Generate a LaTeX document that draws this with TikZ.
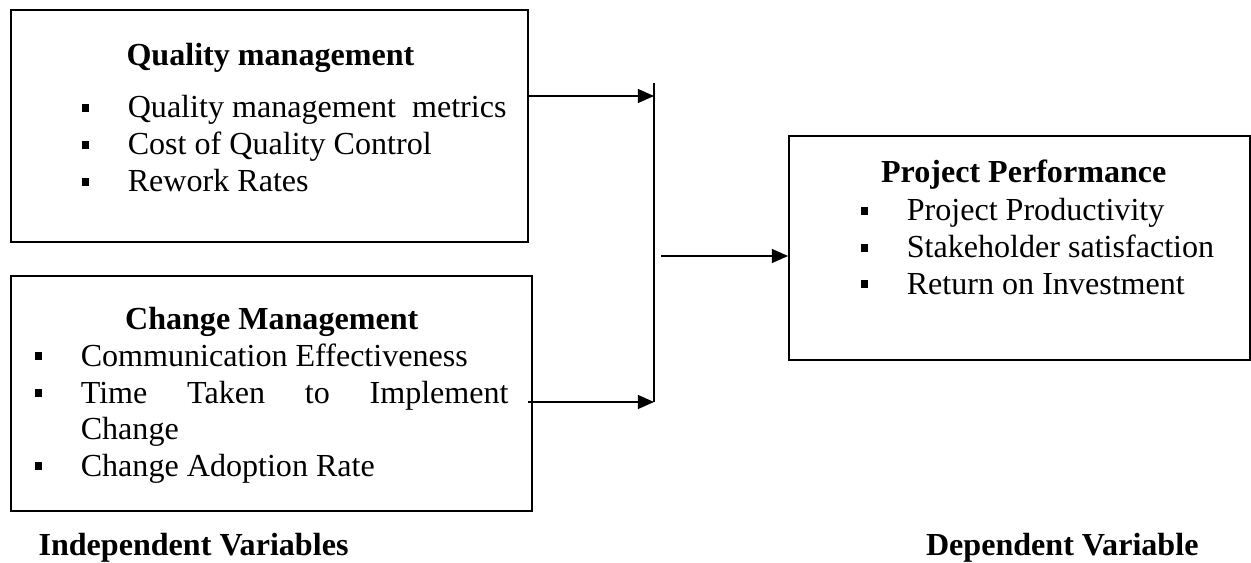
\documentclass[tikz,border=0pt]{standalone}
\usepackage{fontspec}
\setmainfont{Liberation Serif}
\usetikzlibrary{positioning, calc, arrows.meta}

\newcommand{\bul}{\makebox[17.3pt][l]{\rule[2.4pt]{2.8pt}{2.8pt}}}

\begin{document}
\begin{tikzpicture}[x=0.374pt, y=-0.374pt,
	frame/.style={draw, line width=0.9pt, inner sep=0, anchor=north west},
	item/.style={inner sep=0, anchor=base west, font=\fontsize{12}{13.8}\selectfont},
	head/.style={item, font=\fontsize{12}{13.8}\selectfont\bfseries},
	link/.style={line width=0.55pt, -{Triangle[length=6pt, width=5.2pt]}}]
\useasboundingbox (0,0) rectangle (1251,563);
% frames
\node[frame, minimum width={517*0.374pt}, minimum height={232*0.374pt}] (qbox) at (10,9) {};
\node[frame, minimum width={521*0.374pt}, minimum height={235*0.374pt}] (cbox) at (10,275) {};
\node[frame, minimum width={461*0.374pt}, minimum height={224*0.374pt}] (pbox) at (788,135) {};
% titles
\node[head] (qtitle) at (126,66) {Quality management};
\node[head, anchor=base] (ctitle) at ($(cbox.north)+(0,54)$) {Change Management};
\node[head, anchor=base] (ptitle) at ($(pbox.north)+(4,48)$) {Project Performance};
% items
\foreach \t/\y [count=\i] in {Quality management\ \ metrics/118, Cost of Quality Control/155, Rework Rates/192}
	\node[item] (qitem\i) at (81,\y) {\bul\t};
\foreach \t/\y [count=\i] in {{\bul Communication Effectiveness}/366, {\bul\makebox[160pt][s]{Time Taken to Implement}}/403, {\hspace*{17.3pt}Change}/440, {\bul Change Adoption Rate}/476}
	\node[item] (citem\i) at (34,\y) {\t};
\foreach \t/\y [count=\i] in {Project Productivity/221, Stakeholder satisfaction/258, Return on Investment/294}
	\node[item] (pitem\i) at (860,\y) {\bul\t};
% connectors
\coordinate (jtop) at (654,83);
\coordinate (jbot) at (654,402);
\coordinate (jmid) at (661,256);
\draw[line width=0.7pt] (jtop) -- (jbot);
\coordinate (qout) at ($(qbox.north east)+(0,87)$);
\coordinate (cout) at ($(cbox.north east)+(-5,127)$);
\draw[link] (qout) -- (qout -| jtop);
\draw[link] (cout) -- (jbot);
\draw[link] (jmid) -- (jmid -| pbox.west);
% labels
\node[head] (indep) at (38,555) {Independent Variables};
\node[head, anchor=base east] (dep) at (1199,555) {Dependent Variable};
\end{tikzpicture}
\end{document}
